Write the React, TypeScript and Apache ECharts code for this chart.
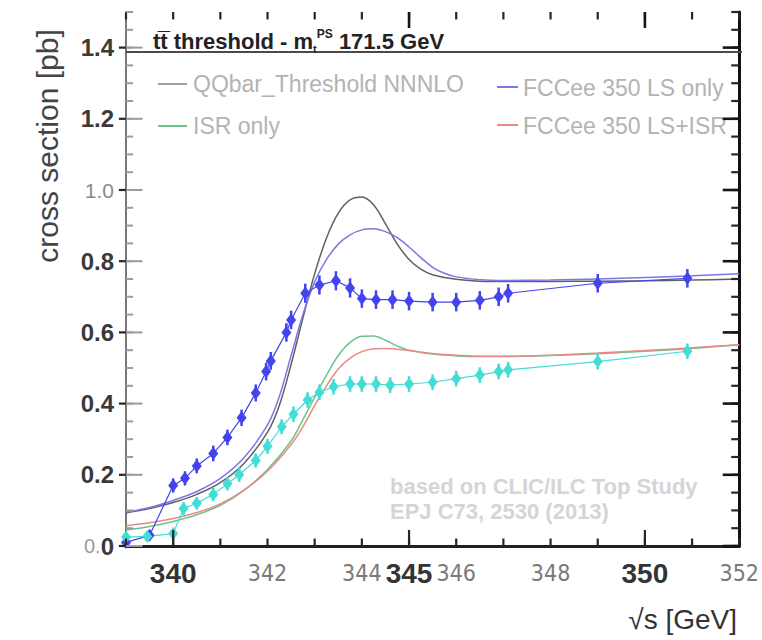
import React, { useEffect, useRef } from "react";
import * as echarts from "echarts";

// Axis ranges
const X_MIN = 339;
const X_MAX = 352;
const Y_MIN = 0;
const Y_MAX = 1.5;

// Tick / label positions
const xLabelValues = [340, 342, 344, 345, 346, 348, 350, 352];
const xBoldLabels = [340, 345, 350];
const xSmallTicks = [339, 340, 341, 342, 343, 344, 345, 346, 347, 348, 349, 350, 351, 352];
const xTallTicksBottom = [340, 345, 350];
const xTallTicksTop = [345, 350];
const yLabelValues = [0, 0.2, 0.4, 0.6, 0.8, 1.0, 1.2, 1.4];

// Theory curves: [sqrt(s) GeV, cross section pb]
const nnnloCurve: [number, number][] = [
  [339.0, 0.093], [339.5, 0.105], [340.0, 0.122], [340.5, 0.145], [341.0, 0.178],
  [341.5, 0.232], [342.0, 0.32], [342.25, 0.395], [342.5, 0.51], [342.75, 0.64],
  [343.0, 0.765], [343.25, 0.865], [343.5, 0.935], [343.75, 0.972], [344.0, 0.98],
  [344.25, 0.958], [344.5, 0.905], [344.75, 0.848], [345.0, 0.805], [345.25, 0.778],
  [345.5, 0.762], [346.0, 0.749], [346.5, 0.744], [347.0, 0.743], [348.0, 0.743],
  [349.0, 0.744], [350.0, 0.745], [351.0, 0.747], [352.0, 0.75],
];

const lsOnlyCurve: [number, number][] = [
  [339.0, 0.095], [339.5, 0.108], [340.0, 0.128], [340.5, 0.153], [341.0, 0.19],
  [341.5, 0.248], [342.0, 0.34], [342.25, 0.42], [342.5, 0.535], [342.75, 0.65],
  [343.0, 0.742], [343.25, 0.805], [343.5, 0.848], [343.75, 0.874], [344.0, 0.888],
  [344.25, 0.891], [344.5, 0.883], [344.75, 0.866], [345.0, 0.84], [345.25, 0.81],
  [345.5, 0.783], [345.75, 0.766], [346.0, 0.756], [346.5, 0.748], [347.0, 0.746],
  [348.0, 0.747], [349.0, 0.75], [350.0, 0.754], [351.0, 0.759], [352.0, 0.765],
];

const isrOnlyCurve: [number, number][] = [
  [339.0, 0.045], [339.5, 0.055], [340.0, 0.069], [340.5, 0.088], [341.0, 0.114],
  [341.5, 0.156], [342.0, 0.215], [342.5, 0.295], [342.75, 0.355], [343.0, 0.418],
  [343.25, 0.48], [343.5, 0.535], [343.75, 0.572], [344.0, 0.589], [344.25, 0.59],
  [344.5, 0.578], [344.75, 0.562], [345.0, 0.55], [345.5, 0.539], [346.0, 0.534],
  [346.5, 0.532], [347.0, 0.532], [348.0, 0.535], [349.0, 0.54], [350.0, 0.547],
  [351.0, 0.555], [352.0, 0.565],
];

const lsIsrCurve: [number, number][] = [
  [339.0, 0.057], [339.5, 0.065], [340.0, 0.077], [340.5, 0.094], [341.0, 0.118],
  [341.5, 0.157], [342.0, 0.21], [342.5, 0.285], [342.75, 0.335], [343.0, 0.395],
  [343.25, 0.45], [343.5, 0.497], [343.75, 0.528], [344.0, 0.546], [344.25, 0.554],
  [344.5, 0.555], [345.0, 0.549], [345.5, 0.541], [346.0, 0.536], [346.5, 0.533],
  [347.0, 0.533], [348.0, 0.536], [349.0, 0.542], [350.0, 0.549], [351.0, 0.557],
  [352.0, 0.565],
];

// Simulated scan points (LS only)
const lsScanX = [
  339.0, 339.5, 340.0, 340.25, 340.5, 340.85, 341.15, 341.45, 341.75, 341.97,
  342.07, 342.4, 342.5, 342.8, 343.1, 343.45, 343.75, 344.0, 344.3, 344.65,
  345.0, 345.5, 346.0, 346.5, 346.9, 347.1, 349.0, 350.9,
];
const lsScanY = [
  0.01, 0.03, 0.17, 0.19, 0.225, 0.26, 0.305, 0.36, 0.43, 0.49,
  0.52, 0.6, 0.635, 0.71, 0.733, 0.745, 0.725, 0.695, 0.692, 0.692,
  0.688, 0.685, 0.685, 0.69, 0.7, 0.71, 0.738, 0.752,
];
const lsScanErr = [
  0.012, 0.014, 0.02, 0.02, 0.021, 0.022, 0.022, 0.023, 0.024, 0.025,
  0.025, 0.026, 0.026, 0.027, 0.027, 0.027, 0.027, 0.026, 0.026, 0.026,
  0.026, 0.026, 0.026, 0.026, 0.026, 0.026, 0.026, 0.026,
];

// Simulated scan points (LS + ISR)
const lsIsrScanX = [
  339.0, 339.45, 340.0, 340.22, 340.5, 340.85, 341.15, 341.4, 341.75, 342.0,
  342.3, 342.55, 342.85, 343.1, 343.4, 343.75, 344.0, 344.3, 344.6, 345.0,
  345.5, 346.0, 346.5, 346.9, 347.1, 349.0, 350.9,
];
const lsIsrScanY = [
  0.025, 0.027, 0.035, 0.105, 0.12, 0.145, 0.175, 0.2, 0.24, 0.28,
  0.335, 0.37, 0.41, 0.432, 0.447, 0.455, 0.455, 0.455, 0.452, 0.455,
  0.46, 0.47, 0.48, 0.49, 0.495, 0.518, 0.547,
];
const lsIsrScanErr = [
  0.014, 0.014, 0.016, 0.018, 0.018, 0.019, 0.019, 0.02, 0.02, 0.021,
  0.021, 0.022, 0.022, 0.022, 0.022, 0.022, 0.022, 0.022, 0.022, 0.022,
  0.022, 0.022, 0.022, 0.022, 0.022, 0.022, 0.022,
];

const COLORS = {
  nnnlo: "#606060",
  lsOnly: "#7878e6",
  isrOnly: "#6cc48c",
  lsIsr: "#ea8a86",
  lsScan: "#4444ee",
  lsIsrScan: "#44ddd6",
  legendText: "#b3b3b3",
  note: "#d5d5d5",
};

// tick styles: [stroke, width]
const TICK_STYLES: [string, number][] = [
  ["#262626", 2.2], // frame ticks
  ["#9c9c9c", 2.0], // light inner ticks, left side
  ["#151515", 2.6], // long ticks
];

// tick lengths, in axis units
const TICK_Y_SHORT = 0.021;
const TICK_Y_LONG = 0.045;
const TICK_X_SHORT = 0.15;
const TICK_X_MID = 0.17;
const TICK_X_LONG = 0.35;

const FONT = '"Liberation Sans", Arial, sans-serif';
const NARROW = '"Liberation Sans Narrow", "DejaVu Sans Condensed", "Liberation Sans", sans-serif';

const GRID = { left: 126, right: 20, top: 12, bottom: 94 };

// minor tick positions on the vertical axes, every 0.05 pb
const yMinorTicks: number[] = [];
for (let i = 0; i <= 30; i++) yMinorTicks.push(i / 20);

function scanPoints(xs: number[], ys: number[]) {
  return xs.map((x, i) => [x, ys[i]]);
}
function errorBars(xs: number[], ys: number[], errs: number[]) {
  return xs.map((x, i) => [x, ys[i], ys[i] - errs[i], ys[i] + errs[i]]);
}

// Frame tick segments: [xa, ya, xb, yb, styleIndex] in axis units
function frameTickRows() {
  const rows: number[][] = [];
  xSmallTicks.forEach((v) => {
    rows.push([v, Y_MIN, v, Y_MIN + TICK_Y_SHORT, 0]);
    rows.push([v, Y_MAX, v, Y_MAX - TICK_Y_SHORT, 0]);
  });
  xTallTicksBottom.forEach((v) => rows.push([v, Y_MIN, v, Y_MIN + TICK_Y_LONG, 0]));
  xTallTicksTop.forEach((v) => rows.push([v, Y_MAX, v, Y_MAX - TICK_Y_LONG, 2]));
  yMinorTicks.forEach((v) => {
    rows.push([X_MIN, v, X_MIN + TICK_X_SHORT, v, 1]);
    rows.push([X_MAX, v, X_MAX - TICK_X_MID, v, 0]);
  });
  yLabelValues.forEach((v) => {
    rows.push([X_MIN, v, X_MIN + TICK_X_LONG, v, 1]);
    rows.push([X_MIN, v, X_MIN - TICK_X_SHORT, v, 0]);
    rows.push([X_MAX, v, X_MAX - TICK_X_LONG, v, 2]);
  });
  return rows;
}

function errorBarSeries(data: number[][], color: string) {
  return {
    type: "custom",
    xAxisIndex: 0,
    yAxisIndex: 0,
    z: 4,
    silent: true,
    data,
    renderItem: (_params: any, api: any) => {
      const x = api.value(0);
      const p1 = api.coord([x, api.value(2)]);
      const p2 = api.coord([x, api.value(3)]);
      return {
        type: "line",
        shape: { x1: p1[0], y1: p1[1], x2: p2[0], y2: p2[1] },
        style: { stroke: color, lineWidth: 2.5 },
      };
    },
  };
}

function curveSeries(name: string, data: [number, number][], color: string) {
  return {
    name,
    type: "line",
    xAxisIndex: 0,
    yAxisIndex: 0,
    data,
    smooth: 0.35,
    symbol: "none",
    z: 2,
    lineStyle: { color, width: 1.5 },
  };
}

function scanSeries(name: string, data: number[][], color: string) {
  return {
    name,
    type: "line",
    xAxisIndex: 0,
    yAxisIndex: 0,
    data,
    symbol: "diamond",
    symbolSize: [10, 13],
    z: 5,
    itemStyle: { color },
    lineStyle: { color, width: 1.2 },
  };
}

export default function App() {
  const ref = useRef<HTMLDivElement>(null);

  useEffect(() => {
    if (!ref.current) return;
    const chart = echarts.init(ref.current, undefined, { renderer: "svg" });

    const option: any = {
      animation: false,
      backgroundColor: "#ffffff",
      grid: { ...GRID },
      xAxis: [
        {
          type: "value",
          min: X_MIN,
          max: X_MAX,
          position: "bottom",
          splitLine: { show: false },
          axisLine: { show: true, lineStyle: { color: "#151515", width: 3 } },
          axisTick: { show: false },
          axisLabel: {
            show: true,
            customValues: xLabelValues,
            margin: 12,
            formatter: (v: number) =>
              xBoldLabels.indexOf(v) >= 0 ? `{b|${v}}` : `{s|${v}}`,
            rich: {
              b: { fontFamily: FONT, fontWeight: "bold", fontSize: 28, color: "#343434", lineHeight: 30 },
              s: { fontFamily: NARROW, fontSize: 23, color: "#7a7a7a", lineHeight: 30 },
            },
          },
        },
        {
          type: "value",
          min: X_MIN,
          max: X_MAX,
          position: "top",
          splitLine: { show: false },
          axisLine: { show: true, lineStyle: { color: "#222", width: 2.5 } },
          axisTick: { show: false },
          axisLabel: { show: false },
        },
      ],
      yAxis: [
        {
          type: "value",
          min: Y_MIN,
          max: Y_MAX,
          position: "left",
          splitLine: { show: false },
          axisLine: { show: true, lineStyle: { color: "#4a4a4a", width: 1.5 } },
          axisTick: { show: false },
          axisLabel: {
            show: true,
            customValues: yLabelValues,
            margin: 12,
            formatter: (v: number) => {
              if (v === 0) return "{s|0.}{b|0}";
              if (v === 1) return "{l|1.0}";
              return `{b|${v.toFixed(1)}}`;
            },
            rich: {
              b: { fontFamily: FONT, fontWeight: "bold", fontSize: 24, color: "#3a3a3a" },
              s: { fontFamily: FONT, fontSize: 20, color: "#9a9a9a" },
              l: { fontFamily: FONT, fontSize: 21, color: "#8a8a8a" },
            },
          },
        },
        {
          type: "value",
          min: Y_MIN,
          max: Y_MAX,
          position: "right",
          splitLine: { show: false },
          axisLine: { show: true, lineStyle: { color: "#111", width: 3 } },
          axisTick: { show: false },
          axisLabel: { show: false },
        },
      ],
      series: [
        curveSeries("QQbar_Threshold NNNLO", nnnloCurve, COLORS.nnnlo),
        curveSeries("FCCee 350 LS only", lsOnlyCurve, COLORS.lsOnly),
        curveSeries("ISR only", isrOnlyCurve, COLORS.isrOnly),
        curveSeries("FCCee 350 LS+ISR", lsIsrCurve, COLORS.lsIsr),
        errorBarSeries(errorBars(lsScanX, lsScanY, lsScanErr), COLORS.lsScan),
        errorBarSeries(errorBars(lsIsrScanX, lsIsrScanY, lsIsrScanErr), COLORS.lsIsrScan),
        scanSeries("LS only scan", scanPoints(lsScanX, lsScanY), COLORS.lsScan),
        scanSeries("LS+ISR scan", scanPoints(lsIsrScanX, lsIsrScanY), COLORS.lsIsrScan),
        {
          type: "custom",
          xAxisIndex: 0,
          yAxisIndex: 0,
          z: 6,
          silent: true,
          data: frameTickRows(),
          renderItem: (_params: any, api: any) => {
            const p1 = api.coord([api.value(0), api.value(1)]);
            const p2 = api.coord([api.value(2), api.value(3)]);
            const st = TICK_STYLES[api.value(4)] || TICK_STYLES[0];
            return {
              type: "line",
              shape: { x1: p1[0], y1: p1[1], x2: p2[0], y2: p2[1] },
              style: { stroke: st[0], lineWidth: st[1] },
            };
          },
        },
      ],
      graphic: [
        // header separator
        {
          type: "line",
          z: 10,
          shape: { x1: 126, y1: 52, x2: 742, y2: 52 },
          style: { stroke: "#4a4a4a", lineWidth: 2 },
        },
        {
          type: "text",
          z: 10,
          x: 153,
          y: 41,
          style: {
            text: "{b|tt\u0305 threshold - m}{sub|t}{sup|PS}{b| 171.5 GeV}",
            rich: {
              b: { fontFamily: FONT, fontWeight: "bold", fontSize: 22, fill: "#222", lineHeight: 26 },
              sub: { fontFamily: FONT, fontWeight: "bold", fontSize: 11, fill: "#222", verticalAlign: "bottom", lineHeight: 26 },
              sup: { fontFamily: FONT, fontWeight: "bold", fontSize: 12, fill: "#222", verticalAlign: "top", lineHeight: 26 },
            },
            verticalAlign: "middle",
            textVerticalAlign: "middle",
          },
        },
        // legend
        { type: "line", shape: { x1: 158, y1: 84, x2: 187, y2: 84 }, style: { stroke: COLORS.nnnlo, lineWidth: 2, opacity: 0.6 } },
        { type: "line", shape: { x1: 158, y1: 126, x2: 187, y2: 126 }, style: { stroke: COLORS.isrOnly, lineWidth: 2 } },
        { type: "line", shape: { x1: 497, y1: 87, x2: 518, y2: 87 }, style: { stroke: COLORS.lsOnly, lineWidth: 2 } },
        { type: "line", shape: { x1: 497, y1: 125, x2: 518, y2: 125 }, style: { stroke: COLORS.lsIsr, lineWidth: 2 } },
        {
          type: "text", x: 193, y: 84,
          style: { text: "QQbar_Threshold NNNLO", font: `23px ${FONT}`, fill: COLORS.legendText, verticalAlign: "middle", textVerticalAlign: "middle" },
        },
        {
          type: "text", x: 193, y: 126,
          style: { text: "ISR only", font: `23px ${FONT}`, fill: COLORS.legendText, verticalAlign: "middle", textVerticalAlign: "middle" },
        },
        {
          type: "text", x: 523, y: 88,
          style: { text: "FCCee 350 LS only", font: `23px ${FONT}`, fill: COLORS.legendText, verticalAlign: "middle", textVerticalAlign: "middle" },
        },
        {
          type: "text", x: 523, y: 126,
          style: { text: "FCCee 350 LS+ISR", font: `23px ${FONT}`, fill: COLORS.legendText, verticalAlign: "middle", textVerticalAlign: "middle" },
        },
        // source note
        {
          type: "text", x: 390, y: 486,
          style: { text: "based on CLIC/ILC Top Study", font: `bold 22px ${FONT}`, fill: COLORS.note, verticalAlign: "middle", textVerticalAlign: "middle" },
        },
        {
          type: "text", x: 390, y: 511,
          style: { text: "EPJ C73, 2530 (2013)", font: `bold 22px ${FONT}`, fill: COLORS.note, verticalAlign: "middle", textVerticalAlign: "middle" },
        },
        // axis titles
        {
          type: "text", x: 47, y: 146, rotation: Math.PI / 2,
          style: {
            text: "cross section [pb]", font: `30px ${FONT}`, fill: "#444",
            align: "center", textAlign: "center", verticalAlign: "middle", textVerticalAlign: "middle",
          },
        },
        {
          type: "text", x: 737, y: 619,
          style: {
            text: "\u221As [GeV]", font: `28px ${FONT}`, fill: "#333",
            align: "right", textAlign: "right", verticalAlign: "middle", textVerticalAlign: "middle",
          },
        },
      ],
    };

    chart.setOption(option);
    return () => chart.dispose();
  }, []);

  return (
    <div
      ref={ref}
      style={{ position: "fixed", left: 0, top: 0, width: 762, height: 640, background: "#fff" }}
    />
  );
}
